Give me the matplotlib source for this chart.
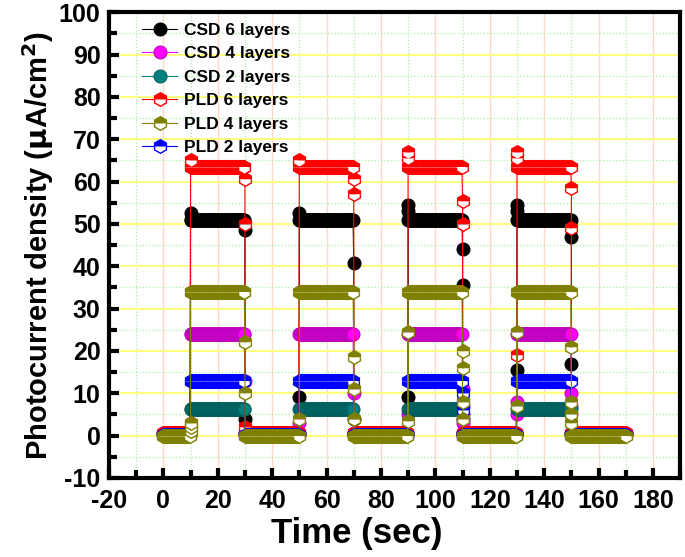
import numpy as np
import matplotlib.pyplot as plt
import matplotlib as mpl
from matplotlib.ticker import MultipleLocator

mpl.rcParams.update({'font.family': ['Liberation Sans', 'DejaVu Sans']})
mpl.rcParams.update({'font.weight': 'bold'})
mpl.rcParams.update({'mathtext.default': 'bf'})
mpl.rcParams['axes.unicode_minus'] = False

# light on / off switching times (sec)
t_on = [10, 50, 90, 130]
t_off = [30, 70, 110, 150]
t_stop = 170
dt = 0.25

labels = ['CSD 6 layers', 'CSD 4 layers', 'CSD 2 layers',
          'PLD 6 layers', 'PLD 4 layers', 'PLD 2 layers']
colors = ['#000000', '#ff00ff', '#008080', '#ff0000', '#808000', '#0000ff']
edges = ['#000000', '#c000c0', '#006060', '#ff0000', '#808000', '#0000ff']
markers = ['o', 'o', 'o', 'h', 'h', 'h']

# plateau currents (uA/cm2)
on_level = [51.0, 24.0, 6.2, 63.5, 34.0, 13.0]
off_level = [0.3, 0.5, 0.3, 0.6, 0.0, 0.2]

# transient points read at each light-on edge (per cycle)
rise_pts = [
    [[52.5], [9.0, 52.5], [9.0, 54.5, 53.0], [15.5, 54.5, 53.0]],
    [[], [3.0], [5.0], [5.0, 8.0]],
    [[], [], [], []],
    [[3.0, 65.0], [65.0], [67.0, 65.5], [19.0, 67.0, 65.5]],
    [[1.0, 2.0, 3.0], [4.0], [24.5, 3.5], [24.5, 7.0]],
    [[], [], [], []],
]
# transient points read at each light-off edge (per cycle)
fall_pts = [
    [[48.5, 4.0], [40.8, 4.0], [44.0, 35.5, 4.0], [47.0, 17.0]],
    [[13.0], [10.0], [11.0, 7.0, 5.0, 3.0], [10.0, 7.0, 5.0]],
    [[], [], [], []],
    [[60.5, 50.0, 2.0], [60.5, 57.0], [55.5, 50.0], [58.5, 49.0]],
    [[22.0, 10.0], [18.5, 11.0, 4.0], [20.0, 16.0, 8.0, 4.0], [21.0, 8.0, 5.0, 3.0]],
    [[], [], [10.0, 8.0, 6.0], []],
]


def build(on, off, rise, fall):
    x, y = [], []
    prev = 0
    for k in range(len(t_on)):
        seg = np.arange(prev, t_on[k], dt)
        x += list(seg); y += [off] * len(seg)
        x += [t_on[k]] * len(rise[k]); y += rise[k]
        seg = np.arange(t_on[k], t_off[k], dt)
        x += list(seg); y += [on] * len(seg)
        x += [t_off[k]] * len(fall[k]); y += fall[k]
        prev = t_off[k]
    seg = np.arange(prev, t_stop + dt, dt)
    x += list(seg); y += [off] * len(seg)
    return np.array(x), np.array(y)


fig = plt.figure(figsize=(6.85, 5.57), dpi=100)
ax = fig.add_axes([0.159, 0.142, 0.834, 0.836])

zorders = [3, 3, 3, 3, 5, 4]
for i in range(6):
    x, y = build(on_level[i], off_level[i], rise_pts[i], fall_pts[i])
    if markers[i] == 'o':
        ax.plot(x, y, '-', color=colors[i], lw=0.8, marker='o', ms=9.3,
                mfc=colors[i], mec=edges[i], mew=0.8, label=labels[i], zorder=zorders[i])
    else:
        ax.plot(x, y, '-', color=colors[i], lw=0.8, marker='h', ms=9.8,
                fillstyle='top', mfc=colors[i], mfcalt='white', mec=edges[i],
                mew=1.0, label=labels[i], zorder=zorders[i])

ax.set_xlim(-20, 190)
ax.set_ylim(-10, 100)
ax.xaxis.set_major_locator(MultipleLocator(20))
ax.xaxis.set_minor_locator(MultipleLocator(10))
ax.yaxis.set_major_locator(MultipleLocator(10))
ax.yaxis.set_minor_locator(MultipleLocator(5))

ax.grid(which='major', axis='y', color='#ffff80', lw=1.5, zorder=0)
ax.grid(which='major', axis='x', color='#ffd8c8', lw=1.0, zorder=0)
ax.grid(which='minor', color='#a8f0a8', lw=0.9, ls=':', zorder=0)
ax.set_axisbelow(True)

ax.tick_params(which='major', direction='in', length=7, width=3, labelsize=18)
ax.tick_params(axis='x', which='major', pad=8)
ax.tick_params(axis='y', which='major', pad=6)
ax.tick_params(which='minor', direction='in', length=6, width=3)
for lab in ax.get_xticklabels() + ax.get_yticklabels():
    lab.set_fontweight('bold')
for s in ax.spines.values():
    s.set_linewidth(3)

ax.set_xlabel('Time (sec)', fontsize=25, fontweight='bold')
ax.xaxis.set_label_coords(0.433, -0.085)
ax.set_ylabel('Photocurrent density ($\\mathbf{\\mu}$A/cm$^\\mathbf{2}$)', fontsize=21,
              fontweight='bold', labelpad=2)

leg = ax.legend(loc='upper left', bbox_to_anchor=(0.04, 1.0), frameon=False,
                fontsize=12.5, handlelength=2.0, handletextpad=0.4,
                labelspacing=0.48, borderaxespad=0.2)
for t in leg.get_texts():
    t.set_fontweight('bold')

fig.savefig('out.png', dpi=100)
